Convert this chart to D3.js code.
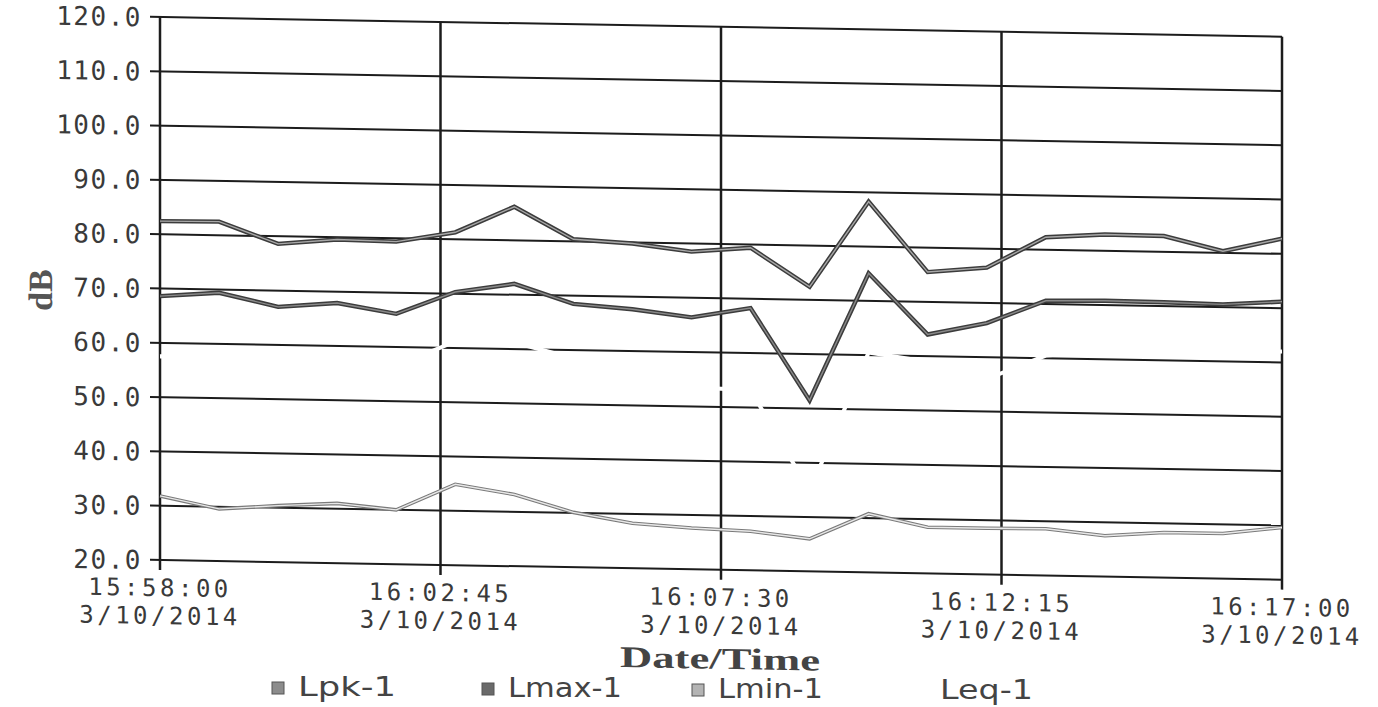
<!DOCTYPE html>
<html>
<head>
<meta charset="utf-8">
<script src="https://cdn.jsdelivr.net/npm/d3@7"></script>
<style>
  body { margin: 0; background: #fff; }
  svg { display: block; }
</style>
</head>
<body>
<script>
// sample times (one reading per minute)
var times = ["15:58:00", "15:59:00", "16:00:00", "16:01:00", "16:02:00", "16:03:00", "16:04:00",
  "16:05:00", "16:06:00", "16:07:00", "16:08:00", "16:09:00", "16:10:00", "16:11:00",
  "16:12:00", "16:13:00", "16:14:00", "16:15:00", "16:16:00", "16:17:00"];

var lpk = [82.4, 82.5, 78.6, 79.6, 79.4, 81.3, 86.2, 80.4, 79.8, 78.5,
  79.4, 72.4, 88.3, 75.5, 76.5, 82.3, 83.0, 82.9, 80.3, 82.8];
var lmax = [68.6, 69.4, 67.0, 67.9, 66.1, 70.3, 72.0, 68.5, 67.7, 66.4,
  68.3, 51.5, 75.1, 64.0, 66.3, 70.6, 70.8, 70.7, 70.5, 71.2];
var lmin = [31.8, 29.6, 30.4, 31.0, 30.0, 34.9, 33.2, 30.1, 28.3, 27.6,
  27.2, 26.0, 30.8, 28.5, 28.5, 28.6, 27.5, 28.3, 28.3, 29.6];
// Leq printed white: only visible where it cuts the grid
var leq = [57.5, 57.8, 57.5, 57.5, 56.5, 61.2, 61.2, 58.5, 56.5, 53.5,
  53.2, 34.8, 60.5, 59.0, 56.0, 60.5, 61.5, 62.0, 61.5, 62.0];

var seriesNames = ["Lpk-1", "Lmax-1", "Lmin-1", "Leq-1"];
var tickTimes = ["15:58:00", "16:02:45", "16:07:30", "16:12:15", "16:17:00"];
var tickDate = "3/10/2014";
var yTicks = [20, 30, 40, 50, 60, 70, 80, 90, 100, 110, 120];

var W = 1378, H = 707;
var margin = { left: 160, right: 1282, top: 17, bottom: 560 };
var shear = 0.0175; // the scan is slightly skewed

var parse = d3.timeParse("%H:%M:%S");

var svg = d3.select("body").append("svg")
  .attr("width", W)
  .attr("height", H);

var root = svg.append("g")
  .attr("transform", "matrix(1," + shear + ",0,1,0," + (-shear * margin.left) + ")");

var x = d3.scaleTime()
  .domain([parse(tickTimes[0]), parse(tickTimes[tickTimes.length - 1])])
  .range([margin.left, margin.right]);

var y = d3.scaleLinear()
  .domain([20, 120])
  .range([margin.bottom, margin.top]);

// horizontal grid + left ticks
root.append("g").selectAll("line")
  .data(yTicks)
  .enter().append("line")
  .attr("x1", margin.left - 10)
  .attr("x2", margin.right)
  .attr("y1", function(d) { return y(d); })
  .attr("y2", function(d) { return y(d); })
  .attr("stroke", "#1c1c1c")
  .attr("stroke-width", 2);

// vertical grid + bottom ticks
root.append("g").selectAll("line")
  .data(tickTimes)
  .enter().append("line")
  .attr("x1", function(d) { return x(parse(d)); })
  .attr("x2", function(d) { return x(parse(d)); })
  .attr("y1", margin.top)
  .attr("y2", margin.bottom + 10)
  .attr("stroke", "#1c1c1c")
  .attr("stroke-width", 2.5);

function toPoints(values) {
  return values.map(function(v, i) { return { t: parse(times[i]), v: v }; });
}

var line = d3.line()
  .x(function(d) { return x(d.t); })
  .y(function(d) { return y(d.v); });

// Leq-1 (white)
root.append("path")
  .datum(toPoints(leq))
  .attr("d", line)
  .attr("fill", "none")
  .attr("stroke", "#ffffff")
  .attr("stroke-width", 4);

// outlined lines: dark edge, light core
var styles = [
  { data: lmin, edge: "#7a7a7a", core: "#e8e8e8", w: 3.6 },
  { data: lmax, edge: "#3c3c3c", core: "#8a8a8a", w: 4.4 },
  { data: lpk, edge: "#3c3c3c", core: "#a8a8a8", w: 4.4 }
];

styles.forEach(function(s) {
  var pts = toPoints(s.data);
  root.append("path")
    .datum(pts)
    .attr("d", line)
    .attr("fill", "none")
    .attr("stroke", s.edge)
    .attr("stroke-width", s.w)
    .attr("stroke-linejoin", "miter");
  root.append("path")
    .datum(pts)
    .attr("d", line)
    .attr("fill", "none")
    .attr("stroke", s.core)
    .attr("stroke-width", 1.4);
});

// y tick labels
root.append("g").selectAll("text")
  .data(yTicks)
  .enter().append("text")
  .attr("x", 142)
  .attr("y", function(d) { return y(d) + 9.5; })
  .attr("text-anchor", "end")
  .style("font-family", "DejaVu Sans Mono")
  .style("font-size", "26px")
  .style("letter-spacing", "1.5px")
  .attr("fill", "#3a3a3a")
  .text(function(d) { return d.toFixed(1); });

// x tick labels (time + date)
var xl = root.append("g").selectAll("g")
  .data(tickTimes)
  .enter().append("g")
  .attr("transform", function(d) { return "translate(" + x(parse(d)) + ",0)"; });

xl.append("text")
  .attr("y", 596)
  .attr("text-anchor", "middle")
  .style("font-family", "DejaVu Sans Mono")
  .style("font-size", "24px")
  .style("letter-spacing", "3.5px")
  .attr("fill", "#3a3a3a")
  .text(function(d) { return d; });

xl.append("text")
  .attr("y", 624)
  .attr("text-anchor", "middle")
  .style("font-family", "DejaVu Sans Mono")
  .style("font-size", "24px")
  .style("letter-spacing", "3.5px")
  .attr("fill", "#3a3a3a")
  .text(tickDate);

// axis titles
root.append("text")
  .attr("x", 620)
  .attr("y", 659)
  .attr("textLength", 200)
  .attr("lengthAdjust", "spacingAndGlyphs")
  .style("font-family", "Liberation Serif")
  .style("font-size", "30px")
  .style("font-weight", "bold")
  .attr("fill", "#444")
  .text("Date/Time");

root.append("text")
  .attr("transform", "translate(40,292) rotate(-90)")
  .attr("text-anchor", "middle")
  .attr("dy", "0.35em")
  .style("font-family", "Liberation Serif")
  .style("font-size", "34px")
  .style("font-weight", "bold")
  .attr("fill", "#555")
  .text("dB");

// legend (placed straight in page pixels)
var legendX = [272, 482, 692, 914];
var legendY = [696, 697, 698, 699];
var legendLen = [98, 114, 105, 93];
var legendFill = ["#8c8c8c", "#6a6a6a", "#b4b4b4", "#ffffff"];

var lg = svg.append("g").selectAll("g")
  .data(seriesNames)
  .enter().append("g")
  .attr("transform", function(d, i) { return "translate(" + legendX[i] + "," + legendY[i] + ")"; });

lg.append("rect")
  .attr("x", 0)
  .attr("y", -14)
  .attr("width", 12)
  .attr("height", 12)
  .attr("fill", function(d, i) { return legendFill[i]; })
  .attr("stroke", function(d, i) { return i == 3 ? "none" : "#555"; })
  .attr("stroke-width", 1);

lg.append("text")
  .attr("x", 26)
  .attr("y", 0)
  .attr("textLength", function(d, i) { return legendLen[i]; })
  .attr("lengthAdjust", "spacingAndGlyphs")
  .style("font-family", "DejaVu Sans")
  .style("font-size", "26px")
  .attr("fill", "#444")
  .text(function(d) { return d; });
</script>
</body>
</html>
